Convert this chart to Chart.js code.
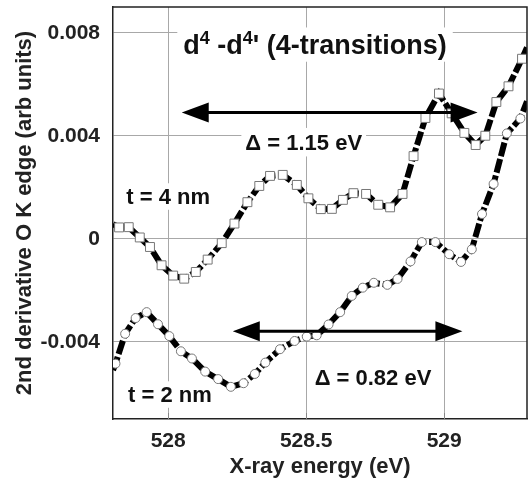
<!DOCTYPE html>
<html>
<head>
<meta charset="utf-8">
<script src="https://cdn.jsdelivr.net/npm/chart.js@4.4.0/dist/chart.umd.min.js"></script>
<style>
  html, body { margin: 0; padding: 0; background: #fff; }
  #wrap { width: 528px; height: 483px; }
</style>
</head>
<body>
<div id="wrap"><canvas id="chart"></canvas></div>
<script>
// Dados (energia em eV, sinal em unidades arbitrárias)
const energy4nm = [527.80, 527.822, 527.857, 527.897, 527.934, 527.976, 528.018, 528.058, 528.100, 528.143,
                   528.194, 528.240, 528.287, 528.330, 528.369, 528.415, 528.466, 528.508, 528.553, 528.593,
                   528.633, 528.671, 528.717, 528.761, 528.804, 528.849, 528.889, 528.932, 528.981, 529.027,
                   529.073, 529.114, 529.149, 529.189, 529.233, 529.282, 529.30];
const signal4nm = [0.00057, 0.00044, 0.00045, 0.00005, -0.00032, -0.00103, -0.00143, -0.00155, -0.00129, -0.00081,
                   -0.00017, 0.00059, 0.00142, 0.00205, 0.00244, 0.00248, 0.00209, 0.00157, 0.00115, 0.00116,
                   0.00151, 0.00177, 0.00174, 0.00132, 0.00122, 0.00174, 0.00321, 0.00469, 0.00564, 0.00487,
                   0.00411, 0.00364, 0.00400, 0.00531, 0.00592, 0.00699, 0.00743];

const energy2nm = [527.80, 527.809, 527.844, 527.882, 527.922, 527.963, 528.004, 528.046, 528.086, 528.134,
                   528.181, 528.227, 528.273, 528.314, 528.352, 528.405, 528.458, 528.502, 528.538, 528.581,
                   528.623, 528.665, 528.705, 528.745, 528.794, 528.831, 528.878, 528.919, 528.968, 529.018,
                   529.061, 529.100, 529.137, 529.179, 529.227, 529.276, 529.30];
const signal2nm = [-0.00510, -0.00485, -0.00369, -0.00308, -0.00285, -0.00332, -0.00378, -0.00437, -0.00465, -0.00516,
                   -0.00545, -0.00575, -0.00561, -0.00525, -0.00481, -0.00429, -0.00397, -0.00380, -0.00375, -0.00333,
                   -0.00285, -0.00222, -0.00190, -0.00171, -0.00179, -0.00156, -0.00088, -0.00013, -0.00013, -0.00060,
                   -0.00090, -0.00041, 0.00096, 0.00213, 0.00409, 0.00467, 0.00534];

// Rótulos dos eixos
const xTickLabels = ['528', '528.5', '529'];
const yTickLabels = ['-0.004', '0', '0.004', '0.008'];

// Setas de largura Δ (início, fim, nível)
const arrowTop = [528.049, 529.121, 0.0049];
const arrowBottom = [528.234, 529.066, -0.00359];

const FONT = '"Liberation Sans", Arial, sans-serif';

const isMajorX = v => Math.abs(v * 2 - Math.round(v * 2)) < 1e-6;
const isMajorY = v => Math.abs(v / 0.004 - Math.round(v / 0.004)) < 1e-6;

const toPoints = (xs, ys) => xs.map((x, i) => ({ x: x, y: ys[i] }));
const edgeRadius = r => ctx => (ctx.dataIndex === 0 || ctx.dataIndex === ctx.dataset.data.length - 1) ? 0 : r;

// Textos anotados (posição em unidades de dados)
const notes = [
    { parts: [['d'], ['4', 1], [' -d'], ['4', 1], ["'"], [' (4-transitions)']], x: 528.532, y: 0.00754, size: 27, pad: [6, 7] },
    { parts: [['\u0394 = 1.15 eV']], x: 528.491, y: 0.00375, size: 22, pad: [4, 6] },
    { parts: [['t = 4 nm']], x: 528.0, y: 0.00164, size: 22, pad: [4, 5] },
    { parts: [['t = 2 nm']], x: 528.006, y: -0.00605, size: 22, pad: [4, 5] },
    { parts: [['\u0394 = 0.82 eV']], x: 528.742, y: -0.00536, size: 22, pad: [4, 5] }
];

const decorPlugin = {
    id: 'decor',
    beforeDatasetsDraw(chart) {
        const { ctx, chartArea: a, scales: { x, y } } = chart;
        ctx.save();
        // marcas menores para dentro
        ctx.strokeStyle = '#888';
        ctx.lineWidth = 1;
        ctx.beginPath();
        y.ticks.forEach(t => {
            if (isMajorY(t.value)) return;
            const py = Math.round(y.getPixelForValue(t.value)) + 0.5;
            ctx.moveTo(a.left, py); ctx.lineTo(a.left + 6, py);
            ctx.moveTo(a.right, py); ctx.lineTo(a.right - 6, py);
        });
        x.ticks.forEach(t => {
            const px = Math.round(x.getPixelForValue(t.value)) + 0.5;
            ctx.moveTo(px, a.bottom); ctx.lineTo(px, a.bottom - 6);
        });
        ctx.stroke();

        // textos com fundo branco
        notes.forEach(n => {
            const big = 'bold ' + n.size + 'px ' + FONT;
            const small = 'bold ' + Math.round(n.size * 0.65) + 'px ' + FONT;
            let w = 0;
            n.parts.forEach(p => { ctx.font = p[1] ? small : big; w += ctx.measureText(p[0]).width; });
            const cx = x.getPixelForValue(n.x), cy = y.getPixelForValue(n.y);
            const h = n.size * 0.75;
            ctx.fillStyle = '#fff';
            ctx.fillRect(cx - w / 2 - n.pad[0], cy - h / 2 - n.pad[1], w + 2 * n.pad[0], h + 2 * n.pad[1]);
            ctx.fillStyle = '#111';
            ctx.textBaseline = 'alphabetic';
            ctx.textAlign = 'left';
            let px = cx - w / 2;
            const base = cy + n.size * 0.36;
            n.parts.forEach(p => {
                ctx.font = p[1] ? small : big;
                ctx.fillText(p[0], px, p[1] ? base - n.size * 0.38 : base);
                px += ctx.measureText(p[0]).width;
            });
        });
        ctx.restore();
    },
    afterDatasetsDraw(chart) {
        const { ctx, chartArea: a, scales: { x, y } } = chart;
        const drawArrow = ([x1v, x2v, yv]) => {
            const x1 = x.getPixelForValue(x1v), x2 = x.getPixelForValue(x2v), py = y.getPixelForValue(yv);
            const hl = 27, hw = 10;
            ctx.strokeStyle = '#000';
            ctx.fillStyle = '#000';
            ctx.lineWidth = 3;
            ctx.beginPath();
            ctx.moveTo(x1 + hl - 2, py); ctx.lineTo(x2 - hl + 2, py);
            ctx.stroke();
            ctx.beginPath();
            ctx.moveTo(x1, py); ctx.lineTo(x1 + hl, py - hw); ctx.lineTo(x1 + hl, py + hw); ctx.closePath();
            ctx.moveTo(x2, py); ctx.lineTo(x2 - hl, py - hw); ctx.lineTo(x2 - hl, py + hw); ctx.closePath();
            ctx.fill();
        };
        ctx.save();
        drawArrow(arrowTop);
        drawArrow(arrowBottom);
        // moldura superior e direita
        ctx.strokeStyle = '#222';
        ctx.lineWidth = 1.5;
        ctx.beginPath();
        ctx.moveTo(a.left, a.top); ctx.lineTo(a.right, a.top); ctx.lineTo(a.right, a.bottom);
        ctx.stroke();
        ctx.restore();
    }
};

const stepTicks = (min, max, step) => {
    const out = [];
    const n = Math.round((max - min) / step);
    for (let i = 0; i <= n; i++) out.push({ value: +(min + i * step).toFixed(6) });
    return out;
};

const lineStyle = {
    borderColor: '#000',
    borderWidth: 6,
    borderDash: [14, 3],
    pointBackgroundColor: '#fff',
    pointBorderColor: '#777',
    pointBorderWidth: 1,
    tension: 0,
    clip: 0
};

new Chart(document.getElementById('chart'), {
    type: 'line',
    data: {
        datasets: [
            Object.assign({ label: 't = 4 nm', data: toPoints(energy4nm, signal4nm), pointStyle: 'rect', pointRadius: edgeRadius(6.3) }, lineStyle),
            Object.assign({ label: 't = 2 nm', data: toPoints(energy2nm, signal2nm), pointStyle: 'circle', pointRadius: edgeRadius(4.5) }, lineStyle)
        ]
    },
    options: {
        responsive: true,
        maintainAspectRatio: false,
        animation: false,
        devicePixelRatio: 1,
        layout: { padding: { top: 7, right: 1, left: 0, bottom: 0 } },
        plugins: { legend: { display: false }, tooltip: { enabled: false } },
        scales: {
            x: {
                type: 'linear',
                min: 527.8,
                max: 529.3,
                afterBuildTicks: s => { s.ticks = stepTicks(527.8, 529.3, 0.05); },
                afterFit: s => { s.height = 64; s.paddingLeft = 0; s.paddingRight = 0; },
                ticks: {
                    autoSkip: false,
                    maxRotation: 0,
                    padding: 10,
                    color: '#222',
                    font: { family: FONT, size: 21, weight: 'bold' },
                    callback: v => isMajorX(v) ? xTickLabels[Math.round((v - 528) * 2)] : null
                },
                grid: {
                    drawTicks: false,
                    lineWidth: 1,
                    color: ctx => ctx.tick && isMajorX(ctx.tick.value) ? '#a8a8a8' : '#a0a0a0'
                },
                border: {
                    color: '#222',
                    width: 1.5,
                    dash: ctx => (ctx.tick && !isMajorX(ctx.tick.value)) ? [3, 4] : []
                },
                title: {
                    display: true,
                    text: 'X-ray energy (eV)',
                    color: '#222',
                    font: { family: FONT, size: 22, weight: 'bold' },
                    padding: { top: 0, bottom: 3 }
                }
            },
            y: {
                min: -0.007,
                max: 0.009,
                afterBuildTicks: s => { s.ticks = stepTicks(-0.007, 0.009, 0.001); },
                afterFit: s => { s.width = 113; s.paddingTop = 0; s.paddingBottom = 0; },
                ticks: {
                    autoSkip: false,
                    padding: 13,
                    color: '#222',
                    font: { family: FONT, size: 21, weight: 'bold' },
                    callback: v => isMajorY(v) ? yTickLabels[Math.round(v / 0.004) + 1] : null
                },
                grid: {
                    drawTicks: false,
                    lineWidth: 1,
                    color: ctx => ctx.tick && isMajorY(ctx.tick.value) ? '#a8a8a8' : 'rgba(0,0,0,0)'
                },
                border: { color: '#222', width: 1.5 },
                title: {
                    display: true,
                    text: '2nd derivative O K edge (arb units)',
                    color: '#222',
                    font: { family: FONT, size: 22, weight: 'bold' },
                    padding: { top: 12, bottom: 0 }
                }
            }
        }
    },
    plugins: [decorPlugin]
});
</script>
</body>
</html>
